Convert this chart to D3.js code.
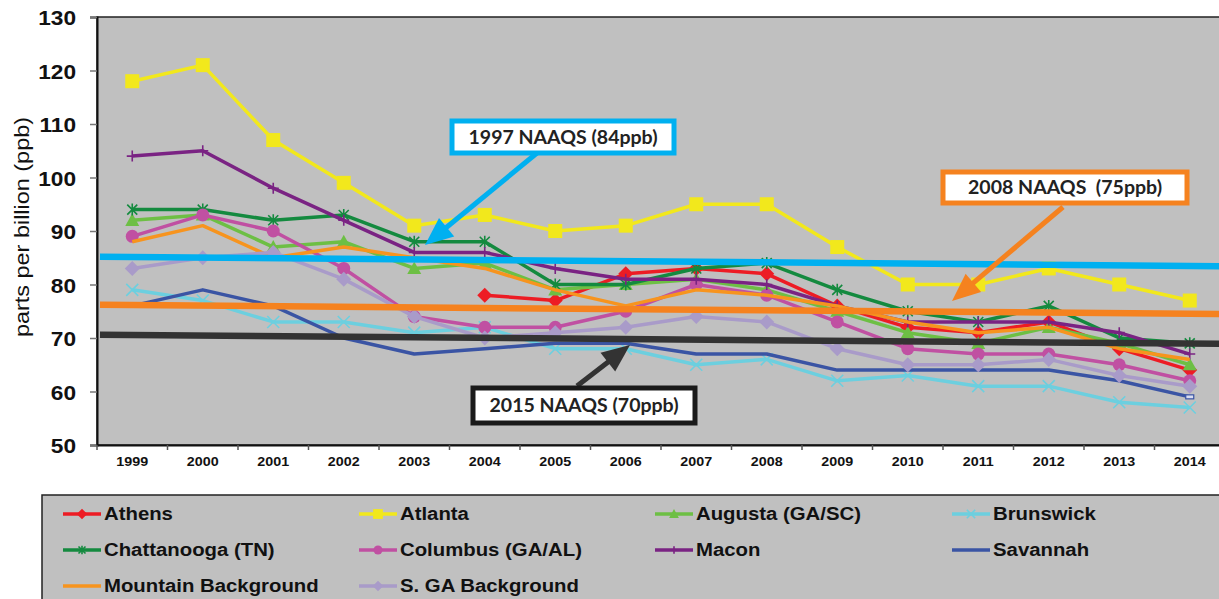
<!DOCTYPE html>
<html><head><meta charset="utf-8">
<script src="https://cdn.jsdelivr.net/npm/d3@7"></script>
<style>
html,body{margin:0;padding:0;background:#fff;}
svg{display:block;}
</style></head>
<body>
<svg id="chart" width="1219" height="599"></svg>
<script>
// ---------- DATA ----------
const years = ["1999","2000","2001","2002","2003","2004","2005","2006","2007","2008","2009","2010","2011","2012","2013","2014"];
const seriesNames = ["Athens","Atlanta","Augusta (GA/SC)","Brunswick","Chattanooga (TN)","Columbus (GA/AL)","Macon","Savannah","Mountain Background","S. GA Background"];
const athens      = [null,null,null,null,null,78,77,82,83,82,76,72,71,73,68,64];
const atlanta     = [118,121,107,99,91,93,90,91,95,95,87,80,80,83,80,77];
const augusta     = [92,93,87,88,83,84,79,80,81,79,75,71,69,72,69,65];
const brunswick   = [79,77,73,73,71,72,68,68,65,66,62,63,61,61,58,57];
const chattanooga = [94,94,92,93,88,88,80,80,83,84,79,75,73,76,70,69];
const columbus    = [89,93,90,83,74,72,72,75,80,78,73,68,67,67,65,62];
const macon       = [104,105,98,92,86,86,83,81,81,80,76,73,73,73,71,67];
const savannah    = [76,79,76,70,67,68,69,69,67,67,64,64,64,64,62,59];
const mountain    = [88,91,85,87,85,83,79,76,79,78,76,73,71,72,68,66];
const sga         = [83,85,86,81,74,70,71,72,74,73,68,65,65,66,63,61];
const seriesValues = [athens,atlanta,augusta,brunswick,chattanooga,columbus,macon,savannah,mountain,sga];

const yTicks = [50,60,70,80,90,100,110,120,130];
const standardLabels = ["1997 NAAQS (84ppb)","2008 NAAQS  (75ppb)","2015 NAAQS (70ppb)"];
const standardStart  = [85.2,76.2,70.6];
const standardEnd    = [83.4,74.5,68.9];

// ---------- STYLES / LAYOUT ----------
const colors  = ["#ED1C24","#F2E81C","#6DBF44","#6CCFDF","#148A3F","#C050A2","#7A2383","#3A54A4","#F7941E","#A99BC9"];
const symbols = ["diamond","square","triangle","x","asterisk","circle","plus","dash","none","diamond2"];
const stdColors = ["#00B0F0","#F5821F","#333333"];
const boxes = [
  {x:452,y:121,w:222,h:32,tw:189,arrow:[537,153,425,245]},
  {x:943,y:172,w:244,h:31,tw:194,arrow:[1063,207,952,301]},
  {x:473,y:388,w:222,h:35,tw:189,arrow:[577,386,630,345]}
];
const plot = {left:97, top:17, bottom:445, right:97+16*70.5};

const svg = d3.select("#chart");
const x = d3.scaleBand().domain(years).range([plot.left, plot.right]).padding(0);
const y = d3.scaleLinear().domain([50,130]).range([plot.bottom, plot.top]);

function stretch(sel, k){
  sel.each(function(){
    const l = this.getComputedTextLength();
    d3.select(this).attr("textLength", l*k).attr("lengthAdjust","spacingAndGlyphs");
  });
}

// plot background
svg.append("rect").attr("x",plot.left).attr("y",plot.top)
  .attr("width",plot.right-plot.left).attr("height",plot.bottom-plot.top)
  .attr("fill","#C0C0C0").attr("stroke","#222").attr("stroke-width",1.5);

// y axis
const ya = svg.append("g").attr("transform",`translate(${plot.left},0)`)
  .call(d3.axisLeft(y).tickValues(yTicks).tickSize(7).tickPadding(14));
ya.select(".domain").attr("stroke","#111").attr("stroke-width",2);
ya.selectAll(".tick line").attr("stroke","#777").attr("stroke-width",1.5);
ya.selectAll(".tick text").attr("font-family","Liberation Sans, Arial, sans-serif")
  .attr("font-weight","bold").attr("font-size",21).attr("fill","#111").attr("dy","0.36em");
stretch(ya.selectAll(".tick text"),1.08);

// x axis
const xa = svg.append("g").attr("transform",`translate(0,${plot.bottom})`)
  .call(d3.axisBottom(x).tickSize(0).tickPadding(12));
xa.select(".domain").attr("stroke","#111").attr("stroke-width",2);
xa.selectAll(".tick text").attr("font-family","Liberation Sans, Arial, sans-serif")
  .attr("font-weight","bold").attr("font-size",13).attr("fill","#111");
stretch(xa.selectAll(".tick text"),1.1);
xa.selectAll(".bticks").data(years.concat(["end"])).enter().append("line")
  .attr("x1",(d,i)=> i<years.length ? x(d) : x(years[years.length-1])+x.bandwidth())
  .attr("x2",(d,i)=> i<years.length ? x(d) : x(years[years.length-1])+x.bandwidth())
  .attr("y1",0).attr("y2",5).attr("stroke","#555").attr("stroke-width",1.5);

// y title
svg.append("text").attr("transform","translate(29,227) rotate(-90)")
  .attr("text-anchor","middle").attr("font-family","Liberation Sans, Arial, sans-serif")
  .attr("font-size",21).attr("fill","#111").text("parts per billion (ppb)")
  .call(s=>s.attr("textLength",220).attr("lengthAdjust","spacingAndGlyphs"));

// marker drawing
function drawMarker(g, type, color, s){
  if(type==="none") return;
  if(type==="square") g.append("rect").attr("x",-7*s).attr("y",-7*s).attr("width",14*s).attr("height",14*s).attr("fill",color);
  else if(type==="circle") g.append("circle").attr("r",6.5*s).attr("fill",color);
  else if(type==="diamond"||type==="diamond2") {const r=7.5*s; g.append("path").attr("d",`M0,${-r}L${r},0L0,${r}L${-r},0Z`).attr("fill",color);}
  else if(type==="triangle") {const r=7*s; g.append("path").attr("d",`M0,${-r}L${r},${r*0.8}L${-r},${r*0.8}Z`).attr("fill",color);}
  else if(type==="x") {const r=6*s; g.append("path").attr("d",`M${-r},${-r}L${r},${r}M${-r},${r}L${r},${-r}`).attr("stroke",color).attr("stroke-width",1.6);}
  else if(type==="asterisk") {const r=5*s; g.append("path").attr("d",`M${-r},${-r}L${r},${r}M${-r},${r}L${r},${-r}M0,${-r*1.2}L0,${r*1.2}`).attr("stroke",color).attr("stroke-width",1.6);}
  else if(type==="plus") {const r=5.5*s; g.append("path").attr("d",`M${-r},0L${r},0M0,${-r}L0,${r}`).attr("stroke",color).attr("stroke-width",1.6);}
  else if(type==="dash") g.append("rect").attr("x",-4*s).attr("y",-2*s).attr("width",8*s).attr("height",4*s).attr("fill","#d8dcf0").attr("stroke",color).attr("stroke-width",1.2);
}

// series
const line = d3.line().defined(d=>d.v!=null).x(d=>x(d.year)+x.bandwidth()/2).y(d=>y(d.v));
seriesNames.forEach((name,i)=>{
  const pts = years.map((yr,j)=>({year:yr, v:seriesValues[i][j]}));
  const g = svg.append("g");
  g.append("path").datum(pts).attr("d",line).attr("fill","none")
    .attr("stroke",colors[i]).attr("stroke-width",3.5).attr("stroke-linejoin","round");
  pts.filter(d=>d.v!=null).forEach((d,j,arr)=>{
    if(symbols[i]==="dash" && j!==arr.length-1) return;
    const mg = g.append("g").attr("transform",`translate(${x(d.year)+x.bandwidth()/2},${y(d.v)})`);
    drawMarker(mg, symbols[i], colors[i], 1);
  });
});

// standard lines
standardLabels.forEach((lab,i)=>{
  svg.append("line").attr("x1",plot.left+3).attr("x2",plot.right)
    .attr("y1",y(standardStart[i])).attr("y2",y(standardEnd[i]))
    .attr("stroke",stdColors[i]).attr("stroke-width",6.5);
});

// annotations
boxes.forEach((b,i)=>{
  const [x1,y1,x2,y2] = b.arrow;
  const dx=x2-x1, dy=y2-y1, L=Math.hypot(dx,dy), ux=dx/L, uy=dy/L;
  const hl=28, hw=12;
  const bx=x2-ux*hl, by=y2-uy*hl;
  svg.append("line").attr("x1",x1).attr("y1",y1).attr("x2",bx+ux*2).attr("y2",by+uy*2)
    .attr("stroke",stdColors[i]).attr("stroke-width",5);
  svg.append("path").attr("d",`M${x2},${y2}L${bx-uy*hw},${by+ux*hw}L${bx+uy*hw},${by-ux*hw}Z`)
    .attr("fill",stdColors[i]);
  svg.append("rect").attr("x",b.x).attr("y",b.y).attr("width",b.w).attr("height",b.h)
    .attr("fill","#fff").attr("stroke",i===2?"#1a1a1a":stdColors[i]).attr("stroke-width",5);
  const t = svg.append("text").attr("x",b.x+b.w/2).attr("y",b.y+b.h/2).attr("dy","0.36em")
    .attr("text-anchor","middle").attr("font-family","Lato, 'Open Sans', sans-serif")
    .attr("font-weight","bold").attr("font-size",19).attr("fill","#222")
    .attr("xml:space","preserve").style("white-space","pre").text(standardLabels[i]);
  t.attr("textLength",b.tw).attr("lengthAdjust","spacingAndGlyphs");
});

// legend
svg.append("rect").attr("x",42).attr("y",495).attr("width",1200).attr("height",120)
  .attr("fill","#C0C0C0").attr("stroke","#222").attr("stroke-width",1.5);
const colX = [63,359,655,952], rowY = [514,550,586];
seriesNames.forEach((name,i)=>{
  const cx = colX[i%4], cy = rowY[Math.floor(i/4)];
  const g = svg.append("g").attr("transform",`translate(${cx},${cy})`);
  g.append("line").attr("x1",0).attr("x2",38).attr("y1",0).attr("y2",0)
    .attr("stroke",colors[i]).attr("stroke-width",3.5);
  const mg = g.append("g").attr("transform","translate(19,0)");
  if(symbols[i]!=="dash") drawMarker(mg, symbols[i], colors[i], 0.7);
  const t = g.append("text").attr("x",41).attr("y",0).attr("dy","0.36em")
    .attr("font-family","Liberation Sans, Arial, sans-serif").attr("font-weight","bold")
    .attr("font-size",18).attr("fill","#111").text(name);
  stretch(t,1.13);
});
</script>
</body></html>
